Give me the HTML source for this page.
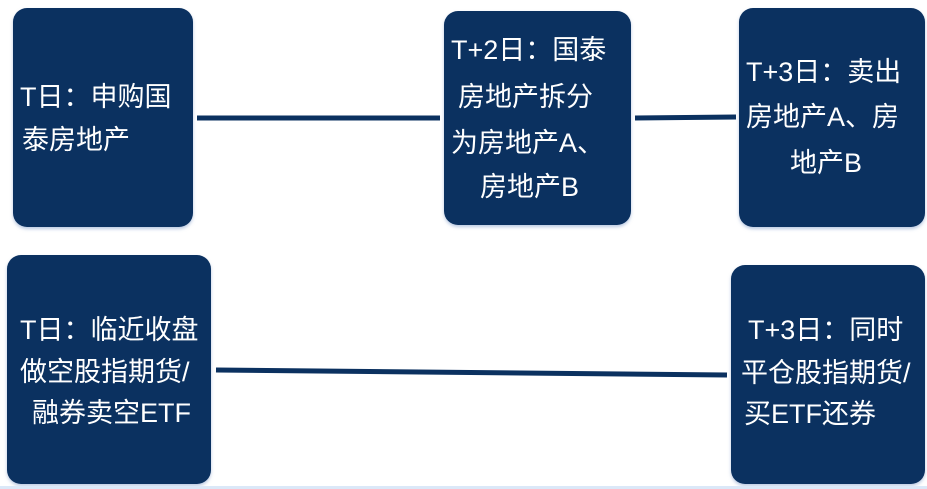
<!DOCTYPE html>
<html><head><meta charset="utf-8"><style>
body{margin:0;width:927px;height:489px;background:#fff;position:relative;overflow:hidden;font-family:"Liberation Sans","Noto Sans CJK SC",sans-serif}
.b{position:absolute;background:#0b3160;border-radius:14px;box-shadow:0 2px 3px rgba(120,150,200,.5)}
.t{position:absolute;color:#fff;font-size:27px;line-height:27px;white-space:nowrap}
</style></head><body>
<svg width="927" height="489" style="position:absolute;left:0;top:0">
<line x1="197" y1="118" x2="440" y2="118" stroke="#0b3160" stroke-width="5"/>
<line x1="635" y1="118" x2="736" y2="117" stroke="#0b3160" stroke-width="5"/>
<line x1="216" y1="370" x2="727" y2="375" stroke="#0b3160" stroke-width="5"/>
</svg>
<div class="b" style="left:13px;top:8px;width:180px;height:219px"></div>
<div class="b" style="left:444px;top:11px;width:187px;height:214px"></div>
<div class="b" style="left:739px;top:8px;width:186px;height:219px"></div>
<div class="b" style="left:7px;top:255px;width:204px;height:229px"></div>
<div class="b" style="left:731px;top:265px;width:194px;height:219px"></div>

<div class="t" style="left:20px;top:84px">T日：申购国</div>
<div class="t" style="left:22px;top:127px">泰房地产</div>

<div class="t" style="left:451px;top:37px">T+2日：国泰</div>
<div class="t" style="left:458px;top:84px">房地产拆分</div>
<div class="t" style="left:451px;top:130px">为房地产A、</div>
<div class="t" style="left:480px;top:174px">房地产B</div>

<div class="t" style="left:746px;top:59px">T+3日：卖出</div>
<div class="t" style="left:746px;top:104px">房地产A、房</div>
<div class="t" style="left:790px;top:150px">地产B</div>

<div class="t" style="left:20px;top:317px">T日：临近收盘</div>
<div class="t" style="left:20px;top:359px">做空股指期货/</div>
<div class="t" style="left:32px;top:400px">融券卖空ETF</div>

<div class="t" style="left:748px;top:317px">T+3日：同时</div>
<div class="t" style="left:741px;top:360px">平仓股指期货/</div>
<div class="t" style="left:744px;top:401px">买ETF还券</div>
<div style="position:absolute;left:0;top:486px;width:927px;height:3px;background:#dbe8f8"></div>
</body></html>
